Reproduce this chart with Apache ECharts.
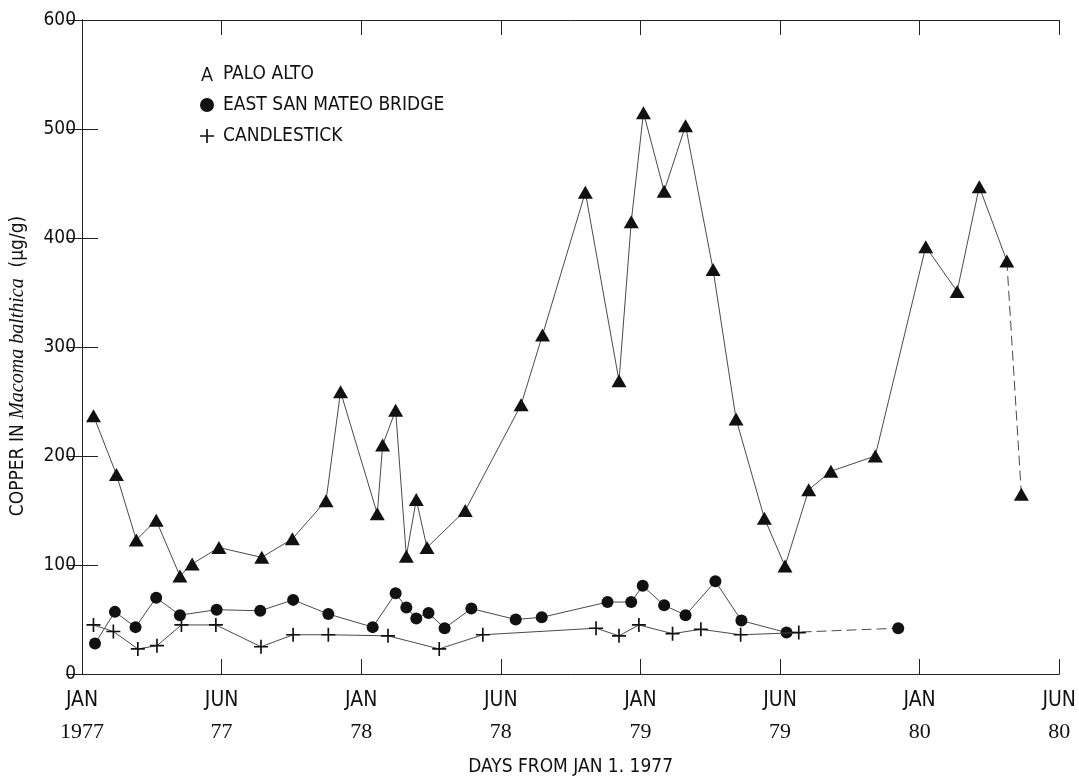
<!DOCTYPE html>
<html>
<head>
<meta charset="utf-8">
<script src="https://cdn.jsdelivr.net/npm/echarts@6/dist/echarts.min.js"></script>
<style>
html,body{margin:0;padding:0;background:#fff;}
#chart{width:1079px;height:782px;}
</style>
</head>
<body>
<div id="chart"></div>
<script>
// ---- data (days from Jan 1, 1977 ; copper in µg/g) ----
const paloDays = [15,45,71,97,128,144,179,235,275,319,338,386,393,410,424,437,451,501,574,602,658,702,718,734,761,789,825,855,892,919,950,979,1037,1103,1144,1173,1209,1228];
const paloCu   = [237,183,123,141,90,101,116,107,124,159,259,147,210,242,108,160,116,150,247,311,442,269,415,515,443,503,371,234,143,99,169,186,200,392,351,447,379,165];
const smDays = [17,43,70,97,128,176,233,276,322,380,410,424,437,453,474,509,567,601,687,718,733,761,789,828,862,921,1067];
const smCu   = [28,57,43,70,54,59,58,68,55,43,74,61,51,56,42,60,50,52,66,66,81,63,54,85,49,38,42];
const candDays = [15,41,73,98,130,175,234,276,322,400,467,524,672,702,728,772,809,861,937];
const candCu   = [45,39,23,26,45,45,25,36,36,35,23,36,42,35,45,37,41,36,38];
const tickMonths = ['JAN','JUN','JAN','JUN','JAN','JUN','JAN','JUN'];
const tickYears  = ['1977','77','78','78','79','79','80','80'];
const seriesNames = ['PALO ALTO','EAST SAN MATEO BRIDGE','CANDLESTICK'];

const NARROW = "'Liberation Sans Narrow','DejaVu Sans Condensed','Roboto Condensed','Arial Narrow',sans-serif";
const SERIF = "'Liberation Serif','DejaVu Serif',serif";
const INK = '#111';
const LINE = '#4a4a4a';

const pairs = (xs, ys) => xs.map((x, i) => [x, ys[i]]);
const palo = pairs(paloDays, paloCu);
const sm = pairs(smDays, smCu);
const cand = pairs(candDays, candCu);

const crossPath = 'path://M-0.12,-1H0.12V-0.12H1V0.12H0.12V1H-0.12V0.12H-1V-0.12H-0.12Z';
const aPath = 'path://M4.3,0L5.7,0L10,12L8.6,12L7.5,8.8L2.5,8.8L1.4,12L0,12Z M5,1.9L2.9,7.6L7.1,7.6Z';

function tailDashed(name, data, symbol, size) {
  const n = data.length;
  return {
    name: name + ' ', type: 'line', xAxisIndex: 0, yAxisIndex: 0,
    data: [{value: data[n - 2], symbol: 'none'}, {value: data[n - 1]}],
    symbol: symbol, symbolSize: size,
    itemStyle: {color: INK},
    lineStyle: {color: LINE, width: 1, type: [10, 5]},
    z: 3
  };
}

const chart = echarts.init(document.getElementById('chart'), null, {renderer: 'canvas'});
const xCommon = {
  type: 'value', min: 0, max: 1277.5, interval: 182.5,
  axisLine: {show: true, onZero: false, lineStyle: {color: '#222', width: 1}},
  axisTick: {show: true, inside: true, length: 15, lineStyle: {color: '#222', width: 1}},
  splitLine: {show: false}
};
const yCommon = {
  type: 'value', min: 0, max: 600, interval: 100,
  axisLine: {show: true, lineStyle: {color: '#222', width: 1}},
  axisTick: {show: true, inside: true, length: 16, lineStyle: {color: '#222', width: 1}},
  splitLine: {show: false}
};

const option = {
  animation: false,
  backgroundColor: '#fff',
  grid: {left: 82, right: 18, top: 20, bottom: 103, containLabel: false},
  legend: {
    data: [
      {name: seriesNames[0], icon: aPath},
      {name: seriesNames[1], icon: 'circle'},
      {name: seriesNames[2], icon: crossPath}
    ],
    orient: 'vertical', left: 195, top: 59,
    itemWidth: 22, itemHeight: 14, itemGap: 11,
    textStyle: {fontFamily: NARROW, fontSize: 19, color: INK, lineHeight: 20},
    selectedMode: false
  },
  xAxis: [
    Object.assign({}, xCommon, {
      position: 'bottom',
      axisLabel: {
        show: true, margin: 15, showMinLabel: true, showMaxLabel: true,
        formatter: function (v) {
          const i = Math.round(v / 182.5);
          return '{m|' + tickMonths[i] + '}\n{y|' + tickYears[i] + '}';
        },
        rich: {
          m: {fontFamily: NARROW, fontSize: 21, color: INK, lineHeight: 24, align: 'center'},
          y: {fontFamily: SERIF, fontSize: 22, color: INK, lineHeight: 38, align: 'center'}
        }
      },
      name: 'DAYS FROM JAN 1. 1977', nameLocation: 'middle', nameGap: 84,
      nameTextStyle: {fontFamily: NARROW, fontSize: 19, color: INK}
    }),
    Object.assign({}, xCommon, {position: 'top', axisLabel: {show: false}})
  ],
  yAxis: [
    Object.assign({}, yCommon, {
      position: 'left',
      axisLabel: {show: true, margin: 6, fontFamily: NARROW, fontSize: 19, color: INK}
    }),
    Object.assign({}, yCommon, {position: 'right', axisLabel: {show: false}})
  ],
  graphic: [{
    type: 'text', x: 18, y: 366, rotation: Math.PI / 2,
    style: {
      text: '{a|COPPER IN }{b|Macoma balthica}{a|  (µg/g)}',
      align: 'center', verticalAlign: 'middle',
      rich: {
        a: {fontFamily: NARROW, fontSize: 19, fill: INK},
        b: {fontFamily: SERIF, fontStyle: 'italic', fontSize: 20, fill: INK}
      }
    }
  }],
  series: [
    {
      name: seriesNames[0], type: 'line', xAxisIndex: 0, yAxisIndex: 0,
      data: palo.slice(0, palo.length - 1),
      symbol: 'triangle', symbolSize: [15, 13],
      itemStyle: {color: INK},
      lineStyle: {color: LINE, width: 1},
      z: 3
    },
    tailDashed(seriesNames[0], palo, 'triangle', [15, 13]),
    {
      name: seriesNames[1], type: 'line', xAxisIndex: 0, yAxisIndex: 0,
      data: sm.slice(0, sm.length - 1),
      symbol: 'circle', symbolSize: 12,
      itemStyle: {color: INK},
      lineStyle: {color: LINE, width: 1},
      z: 3
    },
    tailDashed(seriesNames[1], sm, 'circle', 12),
    {
      name: seriesNames[2], type: 'line', xAxisIndex: 0, yAxisIndex: 0,
      data: cand,
      symbol: crossPath, symbolSize: 14,
      itemStyle: {color: INK},
      lineStyle: {color: LINE, width: 1},
      z: 4
    }
  ]
};
chart.setOption(option);
</script>
</body>
</html>
